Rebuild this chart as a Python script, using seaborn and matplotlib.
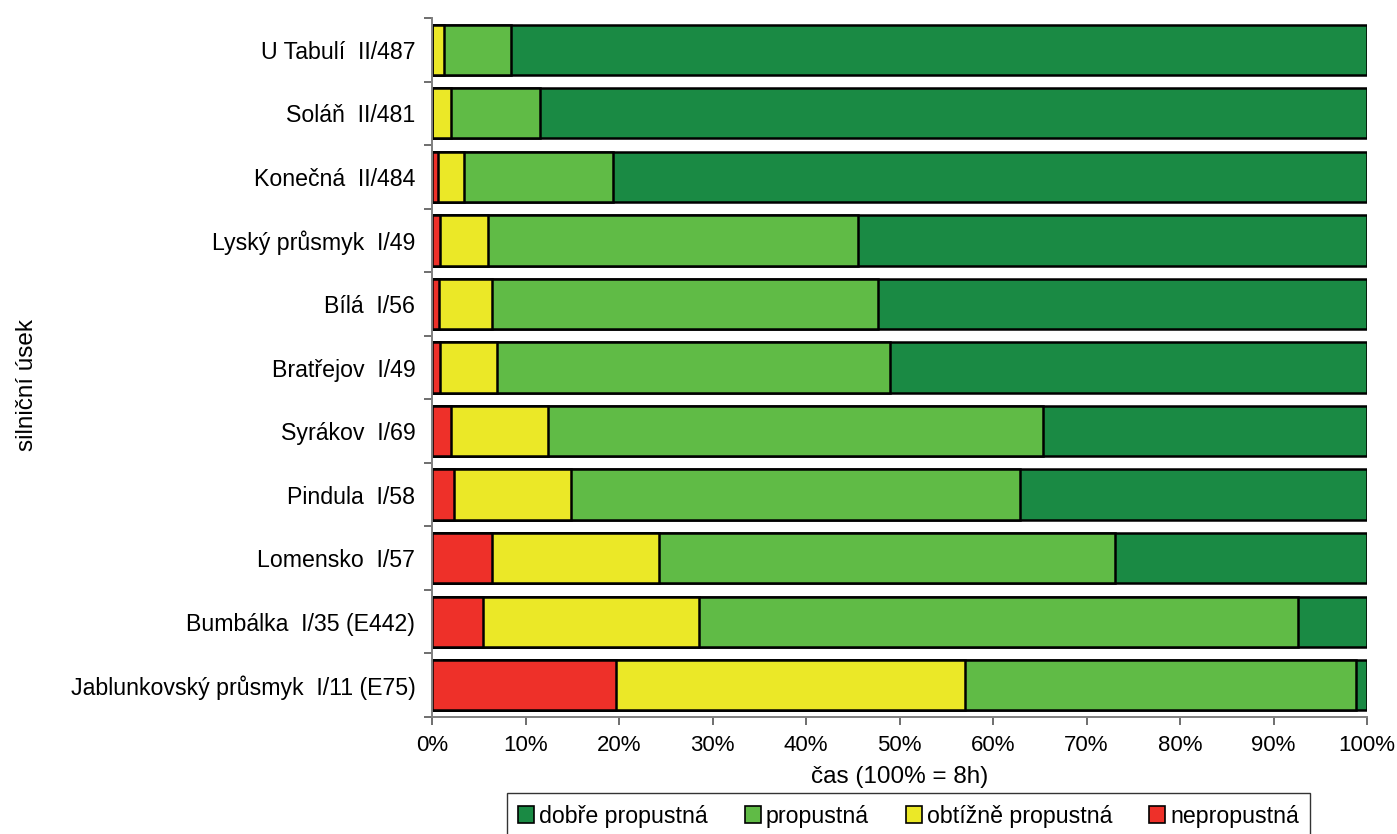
import numpy as np
import pandas as pd
import matplotlib
matplotlib.use("Agg")
import matplotlib.pyplot as plt
from matplotlib.patches import Patch
import seaborn as sns

sections = [
    "U Tabulí  II/487",
    "Soláň  II/481",
    "Konečná  II/484",
    "Lyský průsmyk  I/49",
    "Bílá  I/56",
    "Bratřejov  I/49",
    "Syrákov  I/69",
    "Pindula  I/58",
    "Lomensko  I/57",
    "Bumbálka  I/35 (E442)",
    "Jablunkovský průsmyk  I/11 (E75)",
]
# share of time (%) in each passability class
nepropustna = [0.0, 0.0, 0.65, 0.9, 0.75, 0.9, 2.0, 2.3, 6.4, 5.5, 19.7]
obtizne = [1.25, 2.0, 2.75, 5.1, 5.65, 6.0, 10.4, 12.6, 17.9, 23.1, 37.3]
propustna = [7.2, 9.6, 16.0, 39.6, 41.3, 42.1, 52.9, 48.0, 48.7, 64.0, 41.8]
dobre = [100 - a - b - c for a, b, c in zip(nepropustna, obtizne, propustna)]

labels = ["dobře propustná", "propustná", "obtížně propustná", "nepropustná"]
colors = ["#1a8a44", "#60bb46", "#ebe827", "#ee3029"]

df = pd.DataFrame({
    "usek": sections,
    "nepropustna": nepropustna,
    "obtizne": obtizne,
    "propustna": propustna,
    "dobre": dobre,
})
df["c1"] = df["nepropustna"]
df["c2"] = df["c1"] + df["obtizne"]
df["c3"] = df["c2"] + df["propustna"]
df["c4"] = df["c3"] + df["dobre"]

sns.set_theme(style="white")
plt.rcParams["font.family"] = ["Liberation Sans", "DejaVu Sans"]
plt.rcParams["text.color"] = "black"
plt.rcParams["axes.labelcolor"] = "black"
plt.rcParams["xtick.labelcolor"] = "black"
plt.rcParams["ytick.labelcolor"] = "black"

fig = plt.figure(figsize=(13.97, 8.34), dpi=100)
ax = fig.add_axes([432 / 1397, 1 - 717 / 834, (1367 - 432) / 1397, (717 - 18) / 834])

for col, color in zip(["c4", "c3", "c2", "c1"], colors):
    sns.barplot(data=df, x=col, y="usek", order=sections, orient="h",
                color=color, saturation=1, width=0.79, edgecolor="black",
                linewidth=1.8, ax=ax)

ax.set_xlim(0, 100)
ax.set_ylim(len(sections) - 0.5, -0.5)
ax.set_xticks(np.arange(0, 101, 10))
ax.set_xticklabels([f"{v}%" for v in range(0, 101, 10)], fontsize=16)
ax.set_yticks(range(len(sections)))
ax.set_yticklabels(sections, fontsize=16.7)
ax.set_yticks(np.arange(-0.5, len(sections)), minor=True)
ax.tick_params(axis="y", which="major", length=0, pad=12)
ax.tick_params(axis="y", which="minor", length=6, width=1.2, color="#555555", left=True)
ax.tick_params(axis="x", which="major", length=6, width=1.2, color="#555555", bottom=True, pad=7)

ax.set_xlabel("čas (100% = 8h)", fontsize=17.5, labelpad=7)
ax.set_ylabel("silniční úsek", fontsize=17.5)
ax.yaxis.set_label_coords((38 - 432) / 935, (717 - 385) / 699)

for s in ["top", "right"]:
    ax.spines[s].set_visible(False)
for s in ["left", "bottom"]:
    ax.spines[s].set_color("#7f7f7f")
    ax.spines[s].set_linewidth(1.4)

handles = [Patch(facecolor=c, edgecolor="black", linewidth=1.2) for c in colors]
leg = fig.legend(handles, labels, loc="upper center", bbox_to_anchor=(908.5 / 1397, 1 - 793 / 834),
                 ncol=4, fontsize=16.7, frameon=True, fancybox=False, edgecolor="black",
                 handlelength=0.7, handleheight=0.7, handletextpad=0.2, columnspacing=1.6,
                 borderpad=0.5, borderaxespad=0)
leg.get_frame().set_linewidth(1.0)

fig.savefig("out.png", dpi=100)
